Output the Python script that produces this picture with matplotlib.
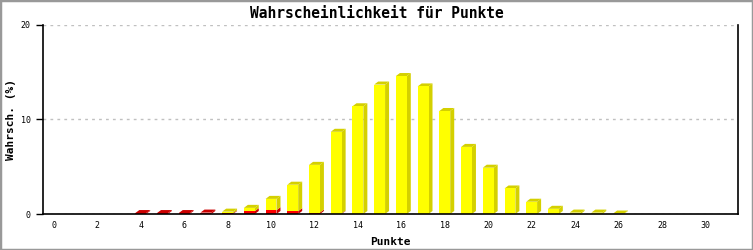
"""Wahrscheinlichkeit fuer Punkte: gestapelte 3D-Saeulen."""

import matplotlib

matplotlib.use("Agg")
import matplotlib.pyplot as plt
from matplotlib.patches import Polygon, Rectangle

# Data
punkte = list(range(4, 27))
rot = [0.1, 0.1, 0.1, 0.15, 0.08, 0.3, 0.4, 0.3, 0.15, 0.05,
       0, 0, 0, 0, 0, 0, 0, 0, 0, 0, 0, 0, 0]
gesamt = [0.1, 0.1, 0.1, 0.15, 0.25, 0.65, 1.6, 3.1, 5.2, 8.7,
          11.4, 13.7, 14.6, 13.5, 10.9, 7.1, 4.9, 2.7, 1.3, 0.55,
          0.15, 0.15, 0.05]
gelb = [g - r for g, r in zip(gesamt, rot)]
x_ticks = list(range(0, 31, 2))
y_ticks = [0, 10, 20]

W, H = 753, 250
AX_L, AX_R, AX_T, AX_B = 43, 738, 25, 214
X_MIN, X_MAX, Y_MIN, Y_MAX = -0.5, 31.5, 0, 20
BAR_W = 0.5
DEPTH_PX = (4, 3)


def draw_bar3d(ax, x, bottom, height, front, side, show_top=True):
    """Front rectangle plus side and top faces offset like a 3D bar."""
    if height <= 0:
        return
    px_x = (AX_R - AX_L) / (X_MAX - X_MIN)
    px_y = (AX_B - AX_T) / (Y_MAX - Y_MIN)
    dx, dy = DEPTH_PX[0] / px_x, DEPTH_PX[1] / px_y
    x0, x1 = x - BAR_W / 2, x + BAR_W / 2
    y0, y1 = bottom, bottom + height
    ax.add_patch(Polygon([(x1, y0), (x1 + dx, y0 + dy), (x1 + dx, y1 + dy), (x1, y1)],
                         closed=True, facecolor=side, edgecolor="none", zorder=3))
    if show_top:
        ax.add_patch(Polygon([(x0, y1), (x0 + dx, y1 + dy), (x1 + dx, y1 + dy), (x1, y1)],
                             closed=True, facecolor=side, edgecolor="none", zorder=3))
    ax.add_patch(Rectangle((x0, y0), BAR_W, height, facecolor=front,
                           edgecolor="none", zorder=4))


def create_plot() -> None:
    fig = plt.figure(figsize=(W / 100, H / 100), dpi=100)
    fig.patch.set_facecolor("white")
    ax = fig.add_axes([AX_L / W, 1 - AX_B / H, (AX_R - AX_L) / W, (AX_B - AX_T) / H])
    ax.set_xlim(X_MIN, X_MAX)
    ax.set_ylim(Y_MIN, Y_MAX)

    for x, r, g in zip(punkte, rot, gelb):
        draw_bar3d(ax, x, 0, r, "#ff0000", "#cc0000", show_top=g <= 0)
        draw_bar3d(ax, x, r, g, "#ffff00", "#d4d000")

    mono = "DejaVu Sans Mono"
    ax.set_yticks(y_ticks)
    ax.set_xticks(x_ticks)
    ax.set_yticklabels([str(v) for v in y_ticks], family=mono, fontsize=6)
    ax.set_xticklabels([str(v) for v in x_ticks], family=mono, fontsize=6)
    ax.tick_params(axis="y", length=5, width=1, pad=4, color="black")
    ax.tick_params(axis="x", length=0, pad=5)
    ax.grid(axis="y", linestyle=(0, (2, 3)), color="#c0c0c0", linewidth=1, zorder=0)
    ax.set_axisbelow(True)

    ax.spines["top"].set_visible(False)
    for s in ("left", "bottom", "right"):
        ax.spines[s].set_linewidth(1.2)
        ax.spines[s].set_color("black")
        ax.spines[s].set_zorder(5)

    ax.set_xlabel("Punkte", family=mono, fontsize=8, fontweight="bold", labelpad=5)
    ax.set_ylabel("Wahrsch. (%)", family=mono, fontsize=8, fontweight="bold", labelpad=3)
    fig.text(0.5, 1 - 13 / H, "Wahrscheinlichkeit für Punkte", family=mono,
             fontsize=10.5, fontweight="bold", ha="center", va="center")

    fig.patches.append(Rectangle((0, 0), 1, 1, transform=fig.transFigure,
                                 fill=False, edgecolor="#999999", linewidth=2.5))

    plt.savefig("out.png", dpi=100)


if __name__ == "__main__":
    create_plot()
